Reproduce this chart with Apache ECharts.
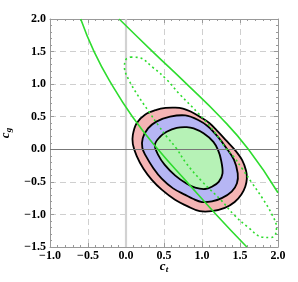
<!DOCTYPE html>
<html><head><meta charset="utf-8">
<script src="https://cdn.jsdelivr.net/npm/echarts@6/dist/echarts.min.js"></script>
<style>html,body{margin:0;padding:0;background:#fff}#c{width:298px;height:282px}</style>
</head><body><div id="c"></div>
<script>
// Tick labels
var xTickValues = [-1.0, -0.5, 0.0, 0.5, 1.0, 1.5, 2.0];
var xTickLabels = ['\u22121.0', '\u22120.5', '0.0', '0.5', '1.0', '1.5', '2.0'];
var yTickValues = [-1.5, -1.0, -0.5, 0.0, 0.5, 1.0, 1.5, 2.0];
var yTickLabels = ['\u22121.5', '\u22121.0', '\u22120.5', '0.0', '0.5', '1.0', '1.5', '2.0'];

// Filled confidence regions (ct, cg)
var outerRegion = [[0.25,0.53],[0.40,0.605],[0.52,0.635],[0.65,0.64],[0.75,0.625],[0.85,0.58],[0.97,0.50],[1.10,0.40],[1.21,0.27],[1.33,0.12],[1.44,-0.02],[1.53,-0.17],[1.58,-0.33],[1.59,-0.45],[1.57,-0.57],[1.52,-0.69],[1.43,-0.81],[1.30,-0.90],[1.13,-0.95],[0.97,-0.95],[0.82,-0.88],[0.64,-0.77],[0.47,-0.62],[0.34,-0.47],[0.23,-0.30],[0.14,-0.10],[0.09,0.08],[0.09,0.22],[0.14,0.40]];
var middleRegion = [[0.215,0.02],[0.22,0.17],[0.29,0.32],[0.40,0.425],[0.58,0.50],[0.78,0.52],[0.95,0.45],[1.08,0.35],[1.21,0.19],[1.32,0.02],[1.42,-0.16],[1.47,-0.37],[1.46,-0.52],[1.39,-0.65],[1.26,-0.75],[1.13,-0.80],[1.00,-0.81],[0.88,-0.76],[0.78,-0.70],[0.62,-0.60],[0.47,-0.45],[0.36,-0.29],[0.255,-0.09]];
var innerRegion = [[0.38,0.07],[0.45,0.195],[0.535,0.27],[0.667,0.33],[0.80,0.34],[0.89,0.32],[1.02,0.245],[1.15,0.115],[1.21,-0.01],[1.25,-0.16],[1.27,-0.37],[1.22,-0.50],[1.13,-0.575],[1.04,-0.61],[0.91,-0.59],[0.80,-0.53],[0.645,-0.40],[0.51,-0.24],[0.425,-0.09]];

// Green solid contour (two visible arcs) and dotted contour
var solidArcLeft = [[-0.596,2.0],[-0.42,1.5],[-0.19,1.0],[0.085,0.5],[0.42,0.0],[0.80,-0.5],[1.185,-1.0],[1.59,-1.5]];
var solidArcRight = [[-0.09,2.0],[0.35,1.5],[0.80,1.0],[1.237,0.5],[1.61,0.0],[2.0,-0.667]];
var dottedContour = [[0.06,1.415],[0.16,1.41],[0.36,1.25],[0.535,1.07],[0.71,0.84],[0.95,0.554],[1.16,0.271],[1.30,0.04],[1.42,-0.12],[1.53,-0.30],[1.66,-0.52],[1.80,-0.76],[1.92,-1.0],[1.98,-1.2],[1.96,-1.32],[1.90,-1.355],[1.80,-1.35],[1.60,-1.19],[1.425,-1.01],[1.25,-0.78],[1.00,-0.494],[0.79,-0.211],[0.66,0.02],[0.545,0.18],[0.43,0.36],[0.30,0.58],[0.16,0.82],[0.04,1.06],[-0.02,1.26],[0.0,1.38],[0.06,1.415]];

function fmt(vals, labels) {
  return function (v) {
    for (var i = 0; i < vals.length; i++) if (Math.abs(vals[i] - v) < 1e-6) return labels[i];
    return '';
  };
}
function regionSeries(pts, fill, z) {
  return {
    type: 'custom', data: pts, z: z, silent: true,
    renderItem: function (params, api) {
      if (params.dataIndex !== 0) return null;
      var p = pts.map(function (d) { return api.coord(d); });
      return { type: 'polygon', shape: { points: p, smooth: 0.35 },
        style: { fill: fill, stroke: '#000', lineWidth: 1.8 } };
    }
  };
}
var green = '#2edc2e';
var labelFont = { fontFamily: 'Liberation Serif', fontWeight: 'bold', fontSize: 12, color: '#000' };
var nameRich = {
  c: { fontFamily: 'Liberation Serif', fontStyle: 'italic', fontWeight: 'bold', fontSize: 13, color: '#000' },
  s: { fontFamily: 'Liberation Serif', fontStyle: 'italic', fontWeight: 'bold', fontSize: 9, color: '#000', padding: [6, 0, 0, 0] }
};
function axisCommon(pos, min, max, showLabels, vals, labels) {
  return {
    type: 'value', position: pos, min: min, max: max, interval: 0.5,
    axisLine: { show: true, onZero: false, lineStyle: { color: '#999', width: 1 } },
    axisTick: { show: true, inside: true, length: 4, lineStyle: { color: '#999' } },
    minorTick: { show: true, splitNumber: 5, length: 2, lineStyle: { color: '#999' } },
    axisLabel: showLabels ? Object.assign({ show: true, formatter: fmt(vals, labels) }, labelFont) : { show: false },
    splitLine: { show: showLabels, lineStyle: { color: '#cfcfcf', type: [6, 4], width: 1 } }
  };
}
var xa = axisCommon('bottom', -1, 2, true, xTickValues, xTickLabels);
xa.axisLabel.margin = 3;
xa.name = '{c|c}{s|t}'; xa.nameLocation = 'middle'; xa.nameGap = 12; xa.nameMoveOverlap = false; xa.nameTextStyle = { rich: nameRich };
var xb = axisCommon('top', -1, 2, false);
var ya = axisCommon('left', -1.5, 2, true, yTickValues, yTickLabels);
ya.axisLabel.margin = 4;
ya.name = '{c|c}{s|g}'; ya.nameLocation = 'middle'; ya.nameGap = 36; ya.nameTextStyle = { rich: nameRich };
var yb = axisCommon('right', -1.5, 2, false);

var chart = echarts.init(document.getElementById('c'), null, { renderer: 'canvas' });
chart.setOption({
  animation: false,
  grid: { left: 50, right: 20, top: 19, bottom: 35, containLabel: false, outerBoundsMode: 'none' },
  xAxis: [xa, xb],
  yAxis: [ya, yb],
  series: [
    { type: 'line', data: [], z: 1, silent: true,
      markLine: { silent: true, symbol: 'none', label: { show: false }, animation: false,
        data: [{ xAxis: 0, lineStyle: { color: '#d2d2d2', width: 2.2, type: 'solid' } }] } },
    regionSeries(outerRegion, '#f4b4b4', 2),
    regionSeries(middleRegion, '#b6b6f4', 3),
    regionSeries(innerRegion, '#b6f2b6', 4),
    { type: 'line', data: [], z: 5, silent: true,
      markLine: { silent: true, symbol: 'none', label: { show: false }, animation: false,
        data: [{ yAxis: 0, lineStyle: { color: '#777', width: 1, type: 'solid' } }] } },
    { type: 'line', data: solidArcLeft, smooth: 0.5, symbol: 'none', z: 6, clip: true, lineStyle: { color: green, width: 1.6 } },
    { type: 'line', data: solidArcRight, smooth: 0.5, symbol: 'none', z: 6, clip: true, lineStyle: { color: green, width: 1.6 } },
    { type: 'line', data: dottedContour, smooth: 0.4, symbol: 'none', z: 6, clip: true, lineStyle: { color: green, width: 1.6, type: [2, 3] } }
  ]
});
</script></body></html>
